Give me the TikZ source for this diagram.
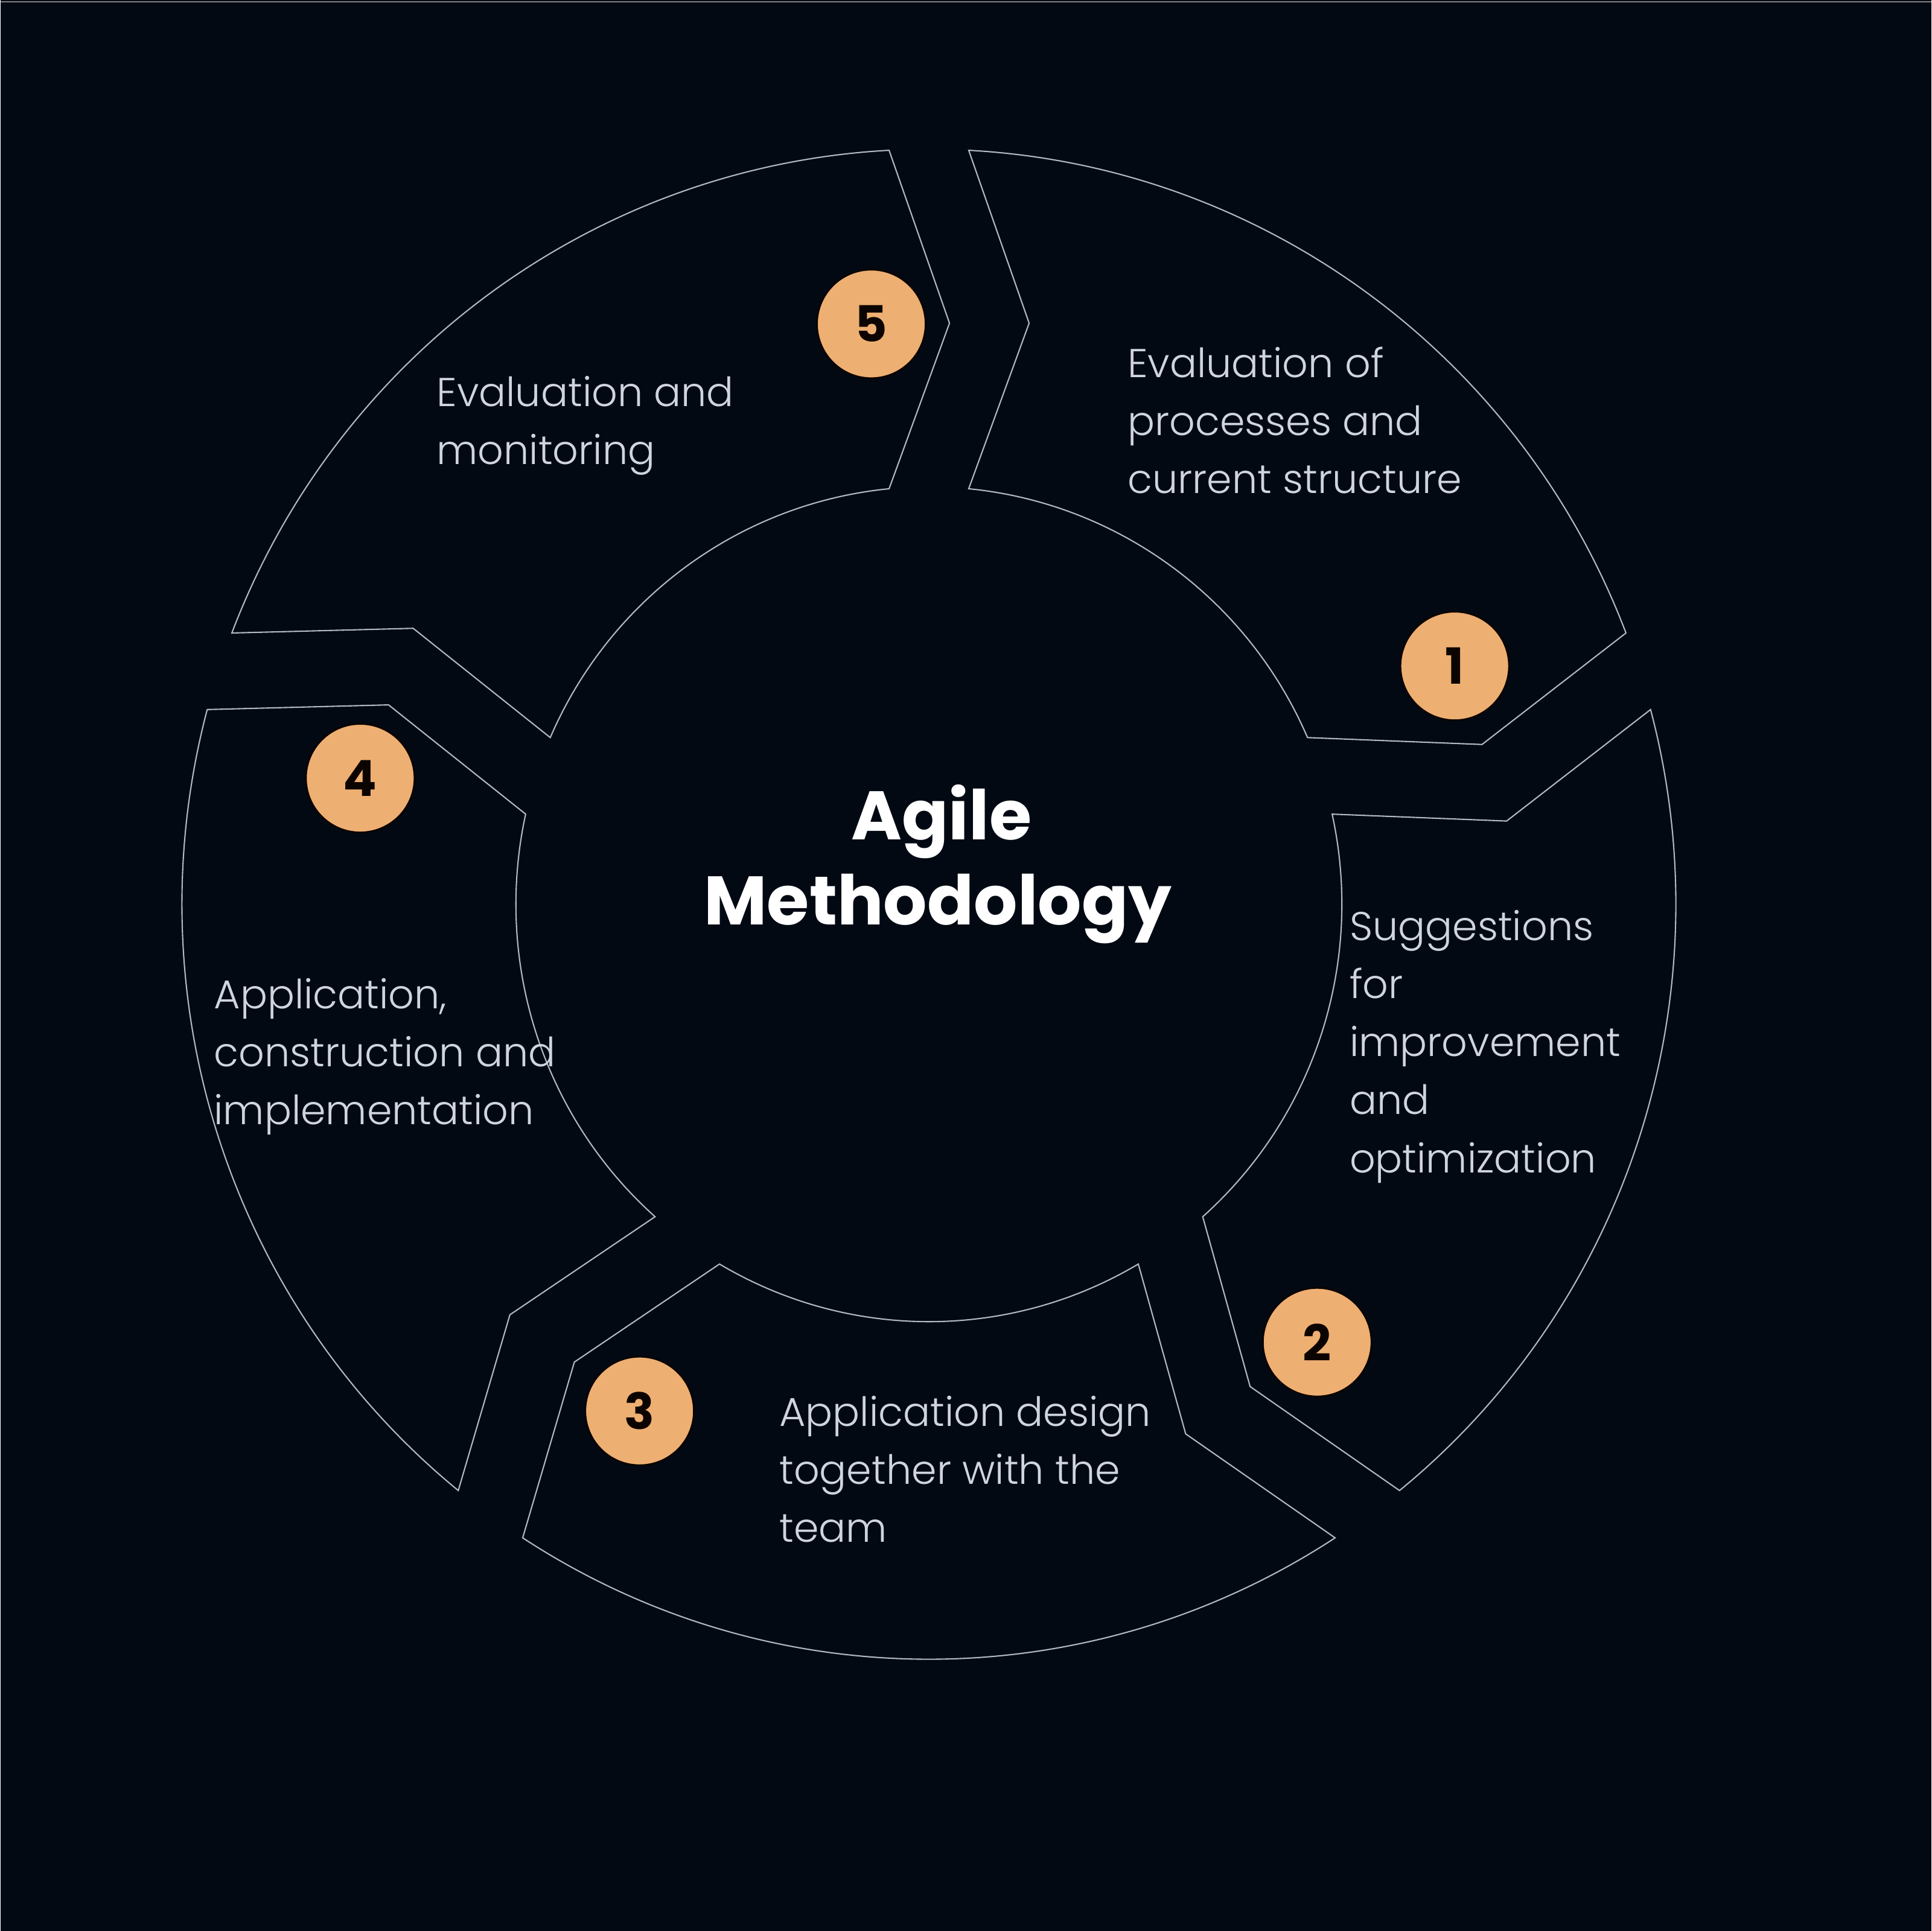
\documentclass[tikz,border=0pt]{standalone}
\usepackage{fontspec}
\setmainfont{Poppins}
\IfFontExistsTF{Poppins Light}
  {\newfontfamily\lightfont{Poppins Light}}
  {\newfontfamily\lightfont{Poppins}}
\usetikzlibrary{positioning,calc}
\definecolor{bgclr}{RGB}{2,9,19}
\definecolor{edgeclr}{RGB}{178,184,194}
\definecolor{badgeclr}{RGB}{238,175,114}
\definecolor{numclr}{RGB}{12,4,0}
\definecolor{txtclr}{RGB}{208,212,224}
% ring radii and half gap between the pieces
\newcommand*{\rOut}{12.38}
\newcommand*{\rIn}{6.845}
\newcommand*{\rMid}{9.58}
\newcommand*{\gapHalf}{0.66}
\newcommand*{\tipShift}{6}

\begin{document}
\begin{tikzpicture}[
  piece/.style={draw=edgeclr,line width=0.6pt,line join=miter},
  badge/.style={circle,fill=badgeclr,draw=numclr,line width=0.8pt,minimum size=1.8cm,
                inner sep=0pt,text=numclr,font=\bfseries\fontsize{23.5}{23.5}\selectfont},
  % anchor base is the baseline of the last line
  steptext/.style={anchor=base west,align=left,inner sep=0pt,text=txtclr,
                   font=\lightfont\fontsize{19}{27.4}\selectfont},
  title/.style={align=center,inner sep=0pt,text=white,
                font=\bfseries\fontsize{32.4}{40}\selectfont}]
% Background, centre of the ring is the origin
\fill[bgclr] (-15.385,-17.02) rectangle (16.615,14.99);
\draw[gray,line width=0.6pt] (-15.385,14.96) -- (16.615,14.96);
% Five arrow shaped pieces, going clockwise
\pgfmathsetmacro{\ao}{asin(\gapHalf/\rOut)}
\pgfmathsetmacro{\ai}{asin(\gapHalf/\rIn)}
\begin{scope}[yscale=1.011]
\foreach \s in {90,18,-54,-126,-198} {
  \pgfmathsetmacro{\e}{\s-72}
  \draw[piece] (\s-\ao:\rOut)
    arc[start angle=\s-\ao,end angle=\e+\ao,radius=\rOut]
    -- ($(\e-\tipShift:\rMid)+(\e+90:\gapHalf)$)
    -- (\e+\ai:\rIn)
    arc[start angle=\e+\ai,end angle=\s-\ai,radius=\rIn]
    -- ($(\s-\tipShift:\rMid)+(\s-90:\gapHalf)$)
    -- cycle;
}
\end{scope}
% Numbers
\node[badge] (b1) at (8.715,3.95) {1};
\node[badge] (b2) at (6.435,-7.26) {2};
\node[badge] (b3) at (-4.795,-8.40) {3};
\node[badge] (b4) at (-9.425,2.09) {4};
\node[badge] (b5) at (-0.955,9.62) {5};
% Texts of the steps
\node[steptext] (t1) at (3.285,6.811) {Evaluation of\\processes and\\current structure};
\node[steptext] (t2) at (6.965,-4.448) {Suggestions\\for\\improvement\\and\\optimization};
\node[steptext] (t3) at (-2.485,-10.574) {Application design\\together with the\\team};
\node[steptext] (t4) at (-11.855,-3.654) {Application,\\construction and\\implementation};
\node[steptext] (t5) at (-8.165,7.293) {Evaluation and\\monitoring};
% Centre
\node[title,anchor=base] (agile) at (0.21,1.07) {Agile};
\node[title,anchor=base] (method) at (0.15,-0.34) {Methodology};
\end{tikzpicture}
\end{document}
